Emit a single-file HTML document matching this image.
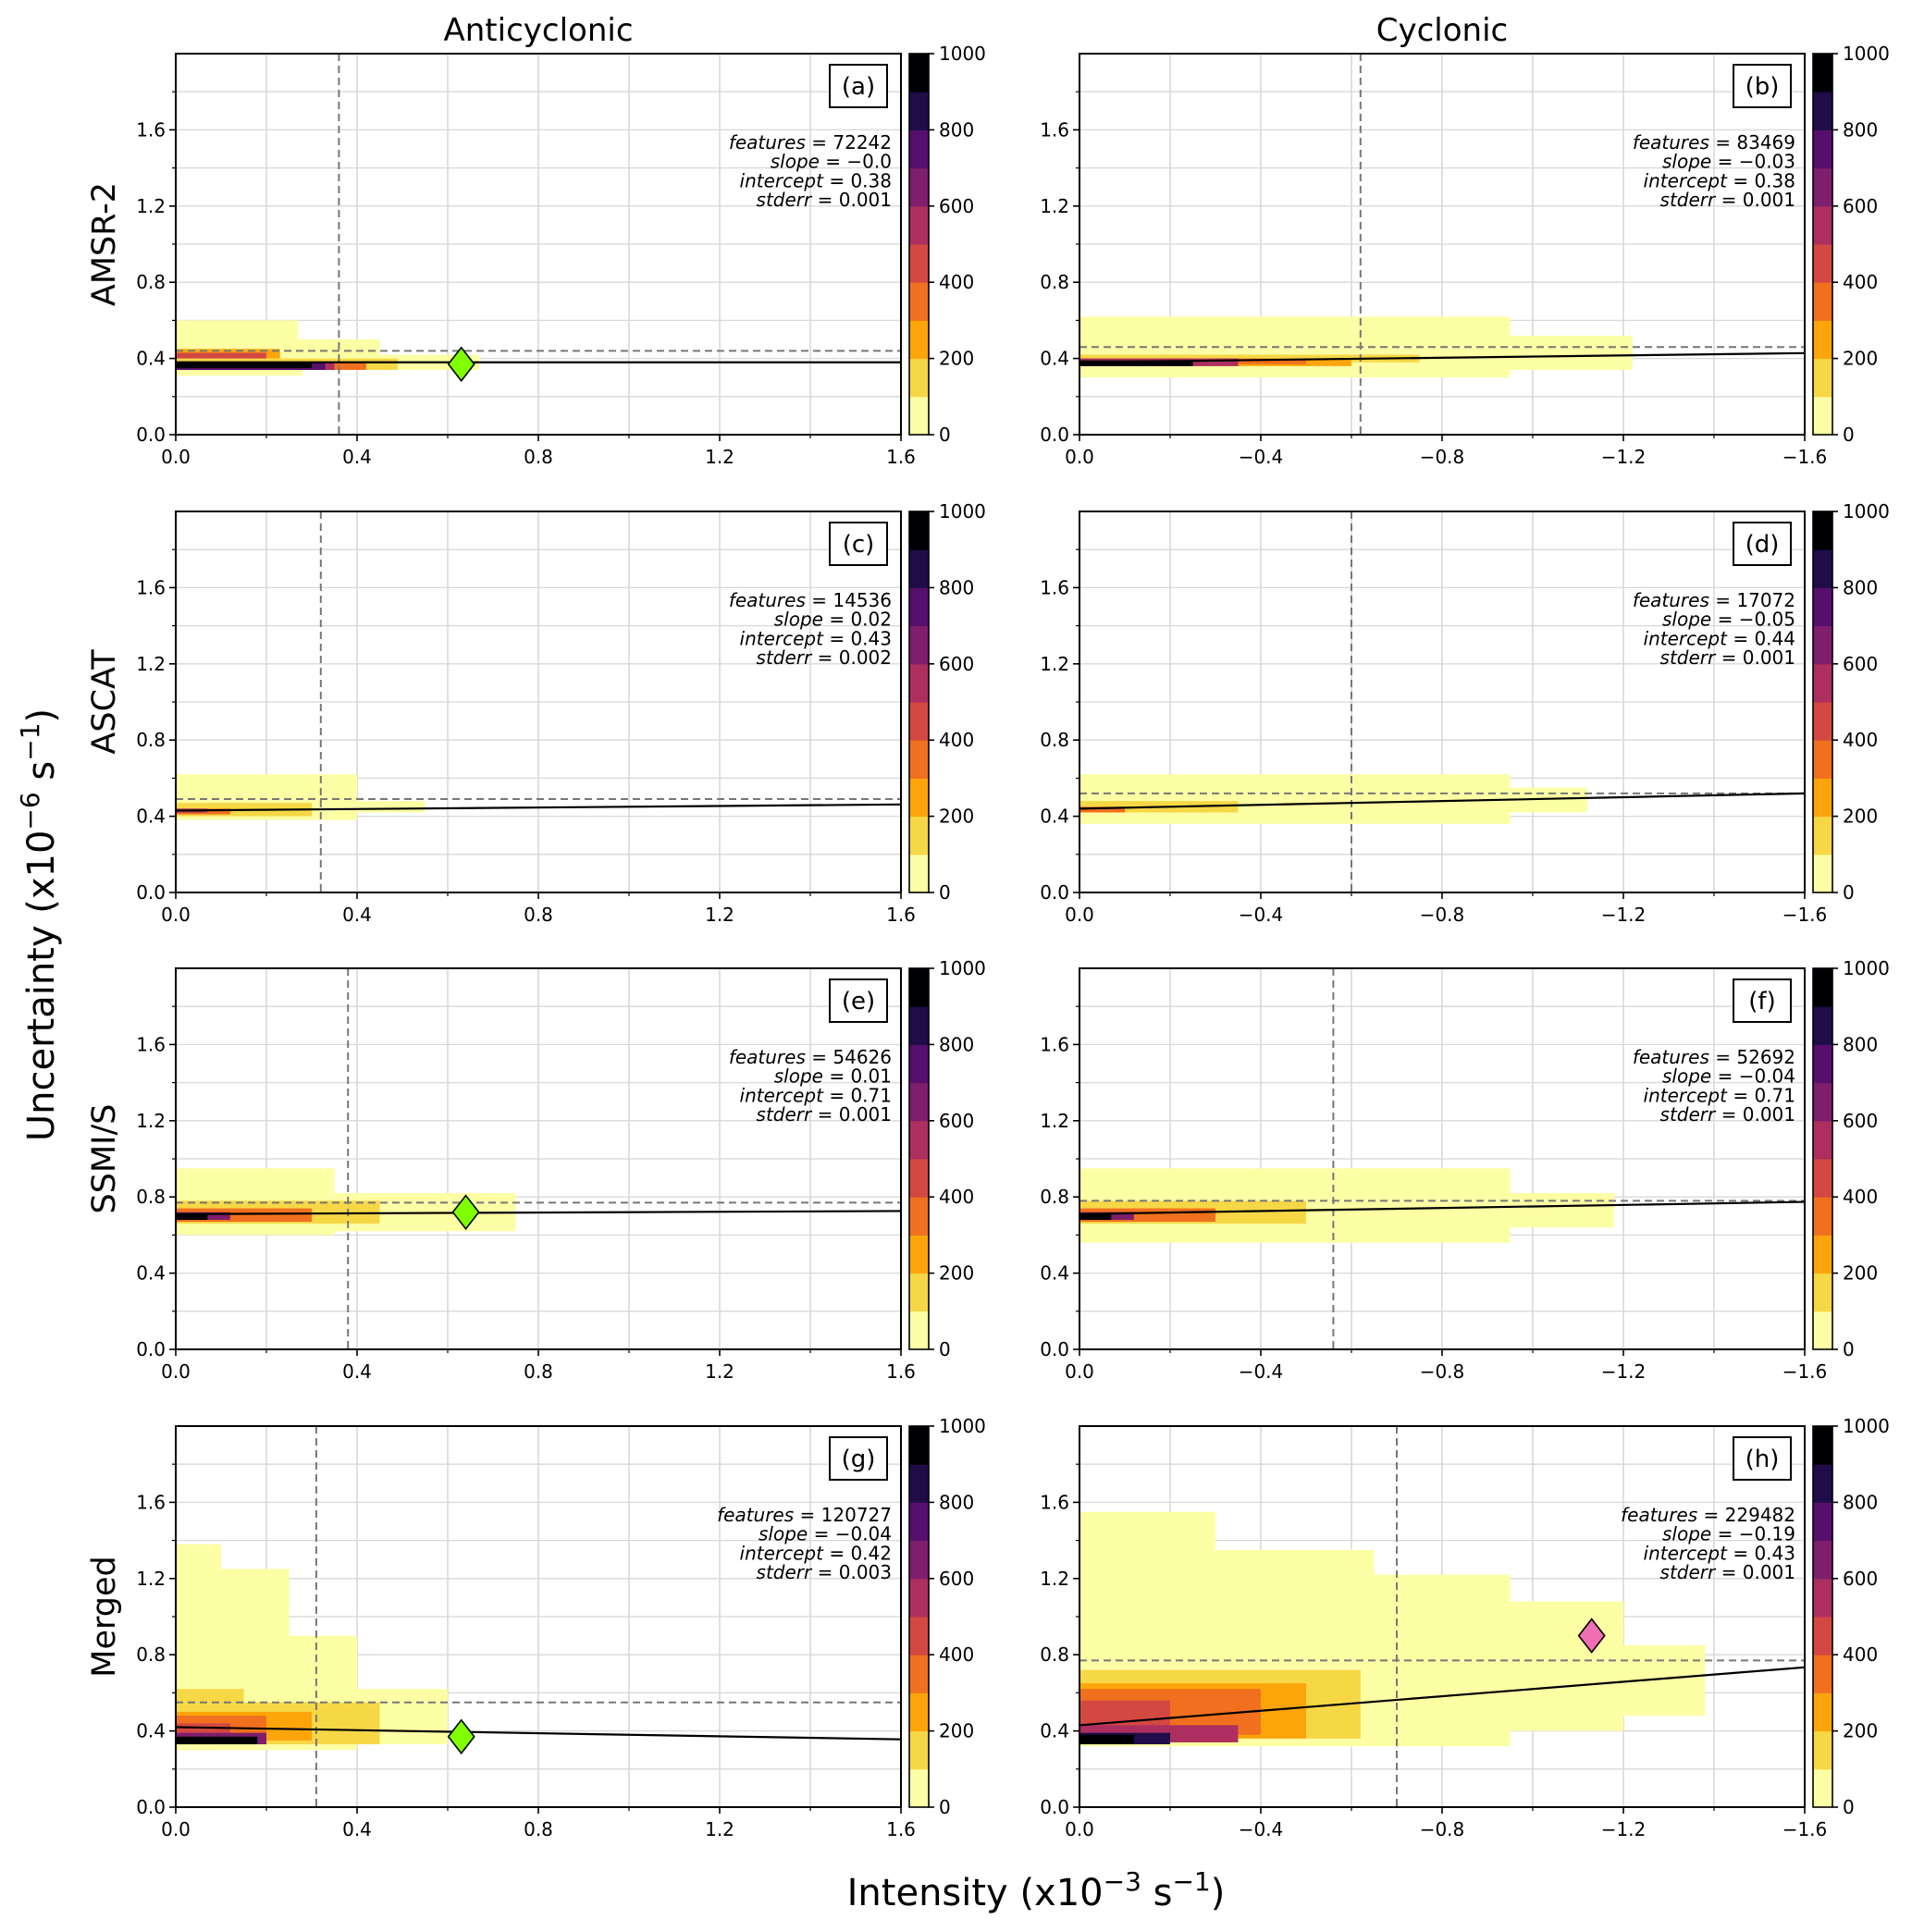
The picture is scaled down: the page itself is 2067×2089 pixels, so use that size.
<!DOCTYPE html>
<html><head><meta charset="utf-8"><style>
html,body{margin:0;padding:0;background:#fff;}
svg{display:block;font-family:"DejaVu Sans","Liberation Sans",sans-serif;}
</style></head><body>
<svg id="fig" width="2067" height="2089" viewBox="0 0 2067 2089" xmlns="http://www.w3.org/2000/svg">
<text x="582" y="44" font-size="34" text-anchor="middle">Anticyclonic</text>
<text x="1559" y="44" font-size="34" text-anchor="middle">Cyclonic</text>
<text transform="translate(58,1000) rotate(-90)" font-size="40" text-anchor="middle">Uncertainty (x10<tspan dy="-16" font-size="28">−6</tspan><tspan dy="16">  s</tspan><tspan dy="-16" font-size="28">−1</tspan><tspan dy="16">)</tspan></text>
<text x="1120" y="2060" font-size="40" text-anchor="middle">Intensity (x10<tspan dy="-16" font-size="28">−3</tspan><tspan dy="16">  s</tspan><tspan dy="-16" font-size="28">−1</tspan><tspan dy="16">)</tspan></text>
</svg>
<script>
const rowLabels=["AMSR-2","ASCAT","SSMI/S","Merged"];
const panelLetters=["a","b","c","d","e","f","g","h"];
const features=[72242,83469,14536,17072,54626,52692,120727,229482];
const slopes=["−0.0","−0.03","0.02","−0.05","0.01","−0.04","−0.04","−0.19"];
const slopeVals=[0.0,-0.03,0.02,-0.05,0.01,-0.04,-0.04,-0.19];
const intercepts=[0.38,0.38,0.43,0.44,0.71,0.71,0.42,0.43];
const stderrs=["0.001","0.001","0.002","0.001","0.001","0.001","0.003","0.001"];
const hLines=[0.44,0.46,0.49,0.52,0.77,0.78,0.55,0.77];
const vLines=[0.36,-0.62,0.32,-0.60,0.38,-0.56,0.31,-0.70];
const diamonds=[[0.63,0.37,"#7fff00"],null,null,null,[0.64,0.72,"#7fff00"],null,[0.63,0.37,"#7fff00"],[-1.13,0.90,"#f06eb4"]];
const xTicksPos=[0,0.4,0.8,1.2,1.6];
const xTicksNeg=[0,-0.4,-0.8,-1.2,-1.6];
const yTicks=[0,0.4,0.8,1.2,1.6];
const cbTicks=[0,200,400,600,800,1000];
const cbColors=["#fcffa4","#f6d746","#fca50a","#f0701f","#d44842","#ac2f60","#7e1e6c","#560f6d","#1f0c48","#000004"];
// heatmap cells: [x0,x1,y0,y1,count]
const cellsA=[[0,0.67,0.34,0.42,50],[0,0.45,0.42,0.5,50],[0,0.27,0.5,0.6,50],[0,0.28,0.31,0.34,50],[0,0.49,0.34,0.40,150],[0,0.23,0.40,0.45,250],[0,0.42,0.34,0.38,350],[0,0.35,0.34,0.38,550],[0,0.33,0.34,0.38,750],[0,0.2,0.40,0.43,450],[0,0.3,0.35,0.38,950]];
const cellsB=[[0,-0.95,0.30,0.62,50],[0,-1.22,0.34,0.52,50],[0,-0.75,0.38,0.42,150],[0,-0.6,0.36,0.40,250],[0,-0.5,0.37,0.40,350],[0,-0.35,0.36,0.40,550],[0,-0.25,0.36,0.39,950]];
const cellsC=[[0,0.4,0.38,0.62,50],[0,0.55,0.42,0.48,50],[0,0.3,0.40,0.47,150],[0,0.12,0.41,0.44,350],[0,0.07,0.42,0.44,550]];
const cellsD=[[0,-0.95,0.36,0.62,50],[0,-1.12,0.42,0.55,50],[0,-0.35,0.42,0.48,150],[0,-0.1,0.42,0.45,350]];
const cellsE=[[0,0.35,0.6,0.95,50],[0,0.75,0.62,0.82,50],[0,0.45,0.66,0.78,150],[0,0.3,0.67,0.74,350],[0,0.12,0.68,0.72,650],[0,0.07,0.68,0.71,950]];
const cellsF=[[0,-0.95,0.56,0.95,50],[0,-1.18,0.64,0.82,50],[0,-0.5,0.66,0.78,150],[0,-0.3,0.67,0.74,350],[0,-0.12,0.68,0.72,650],[0,-0.07,0.68,0.71,950]];
const cellsG=[[0,0.1,0.3,1.38,50],[0,0.25,0.3,1.25,50],[0,0.4,0.3,0.9,50],[0,0.6,0.33,0.62,50],[0,0.15,0.55,0.62,150],[0,0.45,0.33,0.55,150],[0,0.3,0.35,0.5,250],[0,0.2,0.37,0.48,350],[0,0.12,0.36,0.44,450],[0,0.2,0.33,0.39,650],[0,0.18,0.33,0.37,950]];
const cellsH=[[0,-0.3,1.35,1.55,50],[0,-0.65,0.32,1.35,50],[0,-0.95,0.32,1.22,50],[0,-1.2,0.4,1.08,50],[0,-1.38,0.48,0.85,50],[0,-0.62,0.36,0.72,150],[0,-0.5,0.36,0.65,250],[0,-0.4,0.38,0.62,350],[0,-0.2,0.40,0.56,450],[0,-0.35,0.34,0.43,550],[0,-0.2,0.33,0.39,850],[0,-0.12,0.33,0.38,950]];
const allCells=[cellsA,cellsB,cellsC,cellsD,cellsE,cellsF,cellsG,cellsH];

const NS="http://www.w3.org/2000/svg";
const svg=document.getElementById('fig');
function mk(tag,attrs,parent){const e=document.createElementNS(NS,tag);for(const k in attrs)e.setAttribute(k,attrs[k]);(parent||svg).appendChild(e);return e;}
const colLeft=[190,1167],W=784,H=412,rowTop=[58,553,1047,1542];
const cbX=[983,1960],cbW=21;
const fmt=v=>(v<0?"−":"")+Math.abs(v).toFixed(1);
for(let p=0;p<8;p++){
  const r=Math.floor(p/2),c=p%2,L=colLeft[c],T=rowTop[r];
  const xmax=c===0?1.6:-1.6;
  const xs=v=>L+v/xmax*W, ys=v=>T+H-v/2.0*H;
  const g=mk('g',{});
  
  
  for(let i=1;i<8;i++){const gx=mk('line',{x1:xs(xmax*i/8),x2:xs(xmax*i/8),y1:T,y2:T+H,stroke:'#d0d0d0','stroke-width':1.3},g);}
  for(let i=1;i<10;i++){const gy=mk('line',{x1:L,x2:L+W,y1:ys(i*0.2),y2:ys(i*0.2),stroke:'#d8d8d8','stroke-width':1.3},g);}
  allCells[p].forEach(cc=>{const lvl=Math.min(9,Math.floor(cc[4]/100));const x0=xs(cc[0]),x1=xs(cc[1]);
    const rc=mk('rect',{x:Math.min(x0,x1),y:ys(cc[3]),width:Math.abs(x1-x0),height:ys(cc[2])-ys(cc[3]),fill:cbColors[lvl]},g);
    });
  const hl=mk('line',{x1:L,x2:L+W,y1:ys(hLines[p]),y2:ys(hLines[p]),stroke:'#777','stroke-width':2,'stroke-dasharray':'8,5'},g);
  
  const vl=mk('line',{x1:xs(vLines[p]),x2:xs(vLines[p]),y1:T,y2:T+H,stroke:'#777','stroke-width':2,'stroke-dasharray':'8,5'},g);
  
  const fl=mk('line',{x1:xs(0),y1:ys(intercepts[p]),x2:xs(xmax),y2:ys(intercepts[p]+slopeVals[p]*Math.abs(xmax)*(c===0?1:-1)),stroke:'#000','stroke-width':2.2},g);
  
  if(diamonds[p]){const d=diamonds[p],cx=xs(d[0]),cy=ys(d[1]);
    const dm=mk('polygon',{points:`${cx},${cy-18} ${cx+14},${cy} ${cx},${cy+18} ${cx-14},${cy}`,fill:d[2],stroke:'#000','stroke-width':1.6},g);
    }
  const fr=mk('rect',{x:L,y:T,width:W,height:H,fill:'none',stroke:'#000','stroke-width':2},g);
  
  const xt=c===0?xTicksPos:xTicksNeg;
  xt.forEach(v=>{mk('line',{x1:xs(v),x2:xs(v),y1:T+H,y2:T+H+7,stroke:'#000','stroke-width':1.6},g);
    const t=mk('text',{x:xs(v),y:T+H+31,'font-size':20,'text-anchor':'middle'},g);t.textContent=fmt(v);
    });
  for(let i=1;i<8;i+=2)mk('line',{x1:xs(xmax*i/8),x2:xs(xmax*i/8),y1:T+H,y2:T+H+4,stroke:'#000','stroke-width':1.2},g);
  yTicks.forEach(v=>{mk('line',{x1:L-7,x2:L,y1:ys(v),y2:ys(v),stroke:'#000','stroke-width':1.6},g);
    const t=mk('text',{x:L-11,y:ys(v)+7,'font-size':20,'text-anchor':'end'},g);t.textContent=v.toFixed(1);
    });
  for(let i=1;i<10;i+=2)mk('line',{x1:L-4,x2:L,y1:ys(i*0.2),y2:ys(i*0.2),stroke:'#000','stroke-width':1.2},g);
  const bx=mk('rect',{x:L+W-77,y:T+12,width:62,height:46,fill:'#fff',stroke:'#000','stroke-width':2},g);
  
  const lt=mk('text',{x:L+W-46,y:T+44,'font-size':26,'text-anchor':'middle'},g);lt.textContent='('+panelLetters[p]+')';
  
  const lines=[["features",String(features[p])],["slope"," "+slopes[p]],["intercept",intercepts[p].toFixed(2)],["stderr",stderrs[p]]];
  lines.forEach((ln,i)=>{const t=mk('text',{x:L+W-10,y:T+103+i*20.7,'font-size':20,'text-anchor':'end'},g);
    const a=mk('tspan',{'font-style':'italic'},t);a.textContent=ln[0];
    const b=mk('tspan',{},t);b.textContent=" = "+ln[1];
    });
  const cb=mk('g',{},g);
  const cx0=cbX[c];
  cbColors.forEach((col,i)=>{mk('rect',{x:cx0,y:T+H-(i+1)*H/10,width:cbW,height:H/10+0.5,fill:col},cb);});
  mk('rect',{x:cx0,y:T,width:cbW,height:H,fill:'none',stroke:'#000','stroke-width':1.6},cb);
  cbTicks.forEach(v=>{const yy=T+H-v/1000*H;mk('line',{x1:cx0+cbW,x2:cx0+cbW+6,y1:yy,y2:yy,stroke:'#000','stroke-width':1.6},cb);
    const t=mk('text',{x:cx0+cbW+11,y:yy+7,'font-size':20},cb);t.textContent=String(v);
    });
  if(c===0){const rl=mk('text',{transform:`translate(124,${T+H/2}) rotate(-90)`,'font-size':35,'text-anchor':'middle'});
    rl.textContent=rowLabels[r];}
}
</script>
</body></html>
